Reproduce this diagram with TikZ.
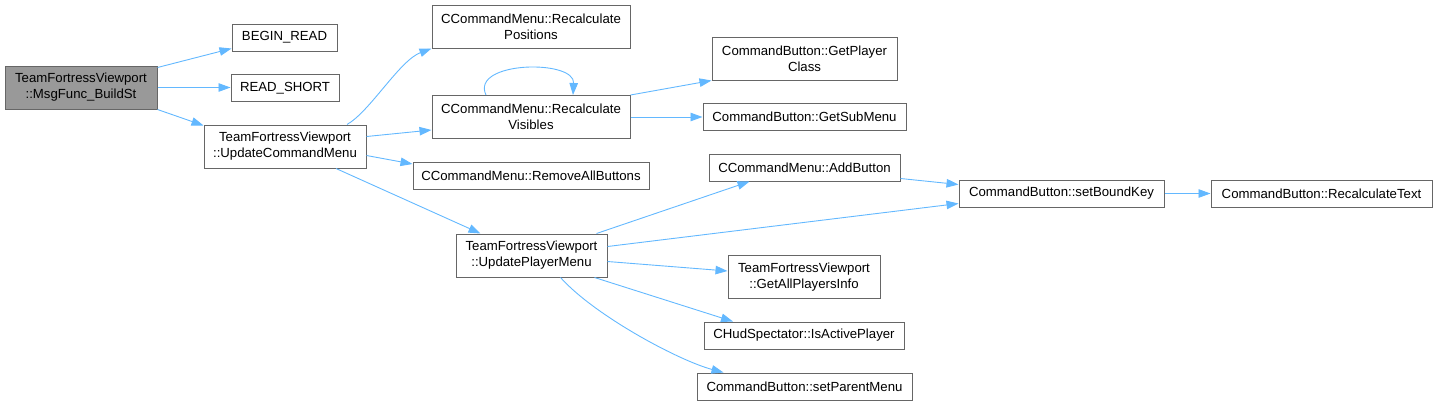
\documentclass[tikz,border=0pt]{standalone}
\usepackage{fontspec}
\setmainfont{Liberation Sans}
\usetikzlibrary{arrows.meta}
\definecolor{edgeblue}{HTML}{63B8FF}
\definecolor{boxborder}{HTML}{666666}
\definecolor{curfill}{HTML}{999999}
\begin{document}
\begin{tikzpicture}[x=1pt,y=-1pt,
  fn/.style={draw=boxborder, line width=1pt, fill=white, inner sep=0pt, align=center,
    font=\fontsize{13.2}{16}\selectfont},
  cur/.style={fn, fill=curfill},
  call/.style={draw=edgeblue, line width=0.9pt, -{Triangle[length=12pt,width=8.5pt]}}]
\useasboundingbox (0,0) rectangle (1437,405);
% nodes
\node[cur, minimum width=152pt, minimum height=43pt] (main) at (81,87.5) {TeamFortressViewport\\::MsgFunc\_BuildSt};
\node[fn, minimum width=105pt, minimum height=27pt] (bread) at (284.5,37.5) {BEGIN\_READ};
\node[fn, minimum width=108pt, minimum height=27pt] (rshort) at (285,88) {READ\_SHORT};
\node[fn, minimum width=162pt, minimum height=43pt] (ucm) at (285,146.5) {TeamFortressViewport\\::UpdateCommandMenu};
\node[fn, minimum width=198pt, minimum height=43pt] (rpos) at (531,26.5) {CCommandMenu::Recalculate\\Positions};
\node[fn, minimum width=198pt, minimum height=43pt] (rvis) at (531,117) {CCommandMenu::Recalculate\\Visibles};
\node[fn, minimum width=236pt, minimum height=27pt] (rab) at (531,176) {CCommandMenu::RemoveAllButtons};
\node[fn, minimum width=151pt, minimum height=43pt] (upm) at (531.5,255.5) {TeamFortressViewport\\::UpdatePlayerMenu};
\node[fn, minimum width=185pt, minimum height=43pt] (gpc) at (804.5,58.5) {CommandButton::GetPlayer\\Class};
\node[fn, minimum width=203pt, minimum height=27pt] (gsm) at (804.5,117) {CommandButton::GetSubMenu};
\node[fn, minimum width=191pt, minimum height=27pt] (addb) at (804.5,167.5) {CCommandMenu::AddButton};
\node[fn, minimum width=152pt, minimum height=43pt] (gapi) at (804,277) {TeamFortressViewport\\::GetAllPlayersInfo};
\node[fn, minimum width=200pt, minimum height=27pt] (iap) at (804,335.5) {CHudSpectator::IsActivePlayer};
\node[fn, minimum width=215pt, minimum height=27pt] (spm) at (804.5,386.5) {CommandButton::setParentMenu};
\node[fn, minimum width=205pt, minimum height=27pt] (sbk) at (1061.5,193.5) {CommandButton::setBoundKey};
\node[fn, minimum width=221pt, minimum height=27pt] (rtext) at (1321.5,194) {CommandButton::RecalculateText};
% edges
\draw[call] ([yshift=-2pt]main.north east) -- ([yshift=3pt]bread.south west);
\draw[call] (main.east) -- (main.east -| rshort.west);
\draw[call] (main.south east) -- ([yshift=-1pt]ucm.north west);
\draw[call] ([xshift=62pt]ucm.north) .. controls ([xshift=85pt,yshift=13pt]ucm.north) and ([xshift=-32pt,yshift=-12pt]rpos.south west) .. (rpos.south west);
\draw[call] ([yshift=10pt]ucm.east) -- ([yshift=-13pt]rvis.west);
\draw[call] ([yshift=-9pt]ucm.east) -- ([yshift=12pt]rab.west);
\draw[call] ([xshift=51pt]ucm.south) -- ([xshift=-51pt]upm.north);
\draw[call] ([xshift=-45pt]rvis.north) .. controls ([xshift=-61pt,yshift=34pt]rvis.north) and ([xshift=44pt,yshift=36pt]rvis.north) .. ([xshift=42pt]rvis.north);
\draw[call] (rvis.north east) -- (gpc.south west);
\draw[call] (rvis.east) -- (gsm.west);
\draw[call] ([xshift=65pt]upm.north) -- ([xshift=-55pt]addb.south);
\draw[call] ([yshift=9pt]upm.east) -- ([yshift=-10pt]sbk.west);
\draw[call] ([yshift=-11pt]addb.east) -- ([yshift=9pt]sbk.west);
\draw[call] (sbk.east) -- (sbk.east -| rtext.west);
\draw[call] ([yshift=-6pt]upm.east) -- ([yshift=6pt]gapi.west);
\draw[call] ([xshift=63pt]upm.south) -- ([xshift=-71pt]iap.north);
\draw[call] ([xshift=29pt]upm.south) .. controls ([xshift=63pt,yshift=-38pt]upm.south) and ([xshift=-126pt,yshift=12pt]spm.north) .. ([xshift=-81pt]spm.north);
\end{tikzpicture}
\end{document}
